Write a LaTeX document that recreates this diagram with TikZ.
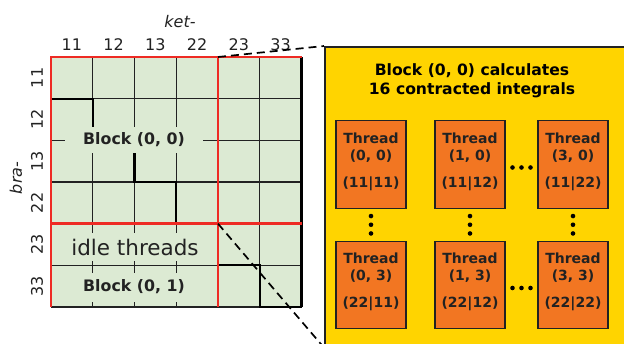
\documentclass[tikz,border=0pt]{standalone}
\usepackage{fontspec}
\setmainfont{DejaVu Sans}
\usetikzlibrary{calc}

\definecolor{cellgreen}{HTML}{DCEAD3}
\definecolor{blockred}{HTML}{EE2B24}
\definecolor{panelyellow}{HTML}{FFD400}
\definecolor{threadorange}{HTML}{F27622}
\definecolor{inkgray}{HTML}{222222}

\begin{document}
\begin{tikzpicture}[x=1pt,y=-1pt,
  gridline/.style={draw=inkgray, line width=1.1pt},
  redline/.style={draw=blockred, line width=2.7pt},
  stepline/.style={draw=black, line width=2.1pt},
  zoomline/.style={draw=black, line width=1.7pt, dash pattern=on 8pt off 5pt},
  axisnum/.style={font=\fontsize{16}{18}\selectfont, text=inkgray, inner sep=0pt},
  axisname/.style={font=\fontsize{16}{18}\selectfont\itshape, text=inkgray, inner sep=0pt},
  cellnote/.style={fill=cellgreen, text=inkgray, font=\fontsize{15.8}{18}\selectfont\bfseries, inner ysep=0pt},
  idlenote/.style={fill=cellgreen, text=inkgray, font=\fontsize{21.5}{24}\selectfont, inner xsep=3pt, inner ysep=0pt, minimum height=28pt},
  zoompanel/.style={draw=inkgray, line width=1.5pt, fill=panelyellow, anchor=north west, minimum width=320pt, minimum height=310pt, inner sep=0pt},
  paneltitle/.style={font=\fontsize{15.6}{19}\selectfont\bfseries, align=center, text=black},
  threadbox/.style={draw=inkgray, line width=1.4pt, fill=threadorange, minimum width=70pt, minimum height=87.5pt, inner sep=0pt},
  threadtext/.style={font=\fontsize{14}{17}\selectfont\bfseries, align=center, text=inkgray, inner sep=0pt},
  ellipsisdot/.style={circle, fill=black, inner sep=0pt, minimum size=4.6pt}
]
\useasboundingbox (0,0) rectangle (624,343);
\clip (0,0) rectangle (624,343);

% ---- 6x6 bra/ket grid -------------------------------------------------
\def\gx{51}\def\gy{57}\def\cw{41.75}\def\ch{41.67}
\fill[cellgreen] (\gx,\gy) rectangle ({\gx+6*\cw},{\gy+6*\ch});
\foreach \i in {1,...,5} {
  \draw[gridline] ({\gx+\i*\cw},\gy) -- ({\gx+\i*\cw},{\gy+6*\ch});
  \draw[gridline] (\gx,{\gy+\i*\ch}) -- ({\gx+6*\cw},{\gy+\i*\ch});
}
\draw[gridline] (\gx,{\gy+6*\ch}) -- ({\gx+6*\cw},{\gy+6*\ch});

% diagonal steps of the thread index
\draw[stepline] (\gx,{\gy+\ch}) -- ({\gx+\cw},{\gy+\ch}) -- ({\gx+\cw},{\gy+2*\ch});
\draw[stepline] ({\gx+2*\cw},{\gy+2*\ch}) -- ({\gx+2*\cw},{\gy+3*\ch})
   -- ({\gx+3*\cw},{\gy+3*\ch}) -- ({\gx+3*\cw},{\gy+4*\ch});
\draw[stepline] ({\gx+4*\cw},{\gy+5*\ch}) -- ({\gx+5*\cw},{\gy+5*\ch})
   -- ({\gx+5*\cw},{\gy+6*\ch}) -- ({\gx+6*\cw},{\gy+6*\ch});
\draw[stepline] ({\gx+6*\cw},\gy) -- ({\gx+6*\cw},{\gy+6*\ch});

% labels inside the grid
\node[cellnote, inner xsep=18pt, minimum height=26pt] (b00) at (134,139.5) {Block (0, 0)};
\node[idlenote] (idle) at (135,247) {idle threads};
\node[cellnote, inner xsep=15pt, minimum height=29pt] (b01) at (134,287) {Block (0, 1)};

% thread-block boundaries
\draw[redline] (\gx,{\gy+6*\ch}) -- (\gx,\gy) -- ({\gx+6*\cw},\gy);
\draw[redline] ({\gx+4*\cw},\gy) -- ({\gx+4*\cw},{\gy+6*\ch});
\draw[redline] (\gx,{\gy+4*\ch}) -- ({\gx+6*\cw},{\gy+4*\ch});

% axis labels
\foreach \lab [count=\k from 0] in {11,12,13,22,23,33} {
  \node[axisnum] (col\k) at ({\gx+(\k+0.5)*\cw},44.5) {\lab};
  \node[axisnum, rotate=90] (row\k) at (37,{\gy+(\k+0.5)*\ch}) {\lab};
}
\node[axisname] (ket) at (180,21.5) {ket-};
\node[axisname, rotate=90] (bra) at (16,178) {bra-};

\coordinate (srcTop) at ({\gx+4*\cw},\gy);
\coordinate (srcBot) at ({\gx+4*\cw},{\gy+4*\ch});

% ---- magnified block ----------------------------------------------------
\node[zoompanel] (panel) at (324,46) {};
\draw[zoomline] (srcTop) -- (panel.north west);
\draw[zoomline] (srcBot) -- (326,350);

\node[paneltitle] (title) at (472,81) {Block (0, 0) calculates\\16 contracted integrals};

\node[threadbox] (t00) at (371,164.5) {};
\node[threadbox] (t10) at (470,164.5) {};
\node[threadbox] (t30) at (573,164.5) {};
\node[threadbox] (t03) at (371,285) {};
\node[threadbox] (t13) at (470,285) {};
\node[threadbox] (t33) at (573,285) {};

\node[threadtext] at ($(t00.center)+(0,-3)$) {Thread\\(0, 0)\\[10pt](11|11)};
\node[threadtext] at ($(t10.center)+(0,-3)$) {Thread\\(1, 0)\\[10pt](11|12)};
\node[threadtext] at ($(t30.center)+(0,-3)$) {Thread\\(3, 0)\\[10pt](11|22)};
\node[threadtext] at ($(t03.center)+(0,-3)$) {Thread\\(0, 3)\\[10pt](22|11)};
\node[threadtext] at ($(t13.center)+(0,-3)$) {Thread\\(1, 3)\\[10pt](22|12)};
\node[threadtext] at ($(t33.center)+(0,-3)$) {Thread\\(3, 3)\\[10pt](22|22)};

% ellipses between the thread boxes
\foreach \dx in {-9,0,9} {
  \node[ellipsisdot] at ($(t10.east)!0.5!(t30.west)+(\dx,3)$) {};
  \node[ellipsisdot] at ($(t13.east)!0.5!(t33.west)+(\dx,3)$) {};
}
\foreach \b/\c in {t00/t03,t10/t13,t30/t33} {
  \foreach \dy in {-8.7,0,8.7} {
    \node[ellipsisdot] at ($(\b.south)!0.5!(\c.north)+(0,\dy)$) {};
  }
}
\end{tikzpicture}
\end{document}
